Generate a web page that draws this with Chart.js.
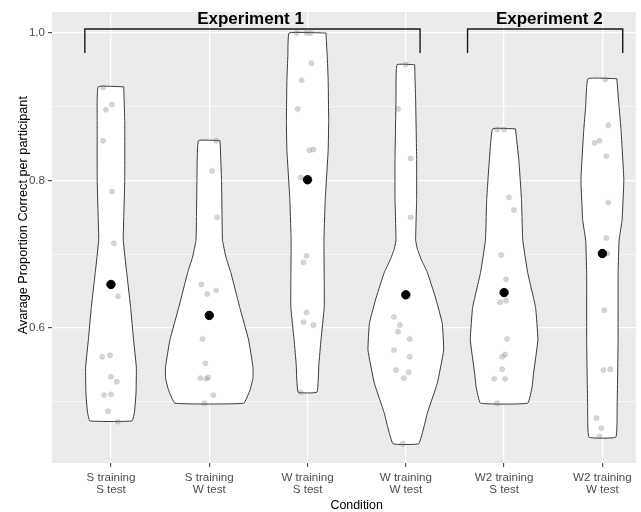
<!DOCTYPE html>
<html>
<head>
<meta charset="utf-8">
<script src="https://cdn.jsdelivr.net/npm/chart.js@4.4.1/dist/chart.umd.min.js"></script>
<style>
  html, body { margin: 0; padding: 0; background: #fff; }
</style>
</head>
<body>
<canvas id="chart" width="641" height="512"></canvas>
<script>
// categories (x positions 1..6)
const conditionLabels = [
  ['S training', 'S test'],
  ['S training', 'W test'],
  ['W training', 'S test'],
  ['W training', 'W test'],
  ['W2 training', 'S test'],
  ['W2 training', 'W test']
];

const yTicks = [0.5, 0.6, 0.7, 0.8, 0.9, 1.0];
const yTickLabels = ['', '0.6', '', '0.8', '', '1.0'];

// mean per condition (black dots)
const meanValues = [0.659, 0.617, 0.801, 0.645, 0.648, 0.701];

// participants: [jitter, proportion correct]
const ptsSS = [[-0.08,0.926],[0.01,0.903],[-0.05,0.896],[-0.08,0.854],[0.01,0.785],[0.03,0.715],[0.07,0.643],
  [-0.09,0.561],[-0.01,0.563],[0.0,0.534],[0.06,0.527],[-0.07,0.509],[0.0,0.510],[-0.03,0.487],[0.07,0.473]];
const ptsSW = [[0.07,0.854],[0.03,0.813],[0.08,0.750],[-0.08,0.659],[-0.02,0.646],[0.07,0.651],[-0.07,0.585],
  [-0.04,0.552],[-0.09,0.532],[-0.03,0.531],[-0.01,0.533],[0.04,0.509],[-0.05,0.498]];
const ptsWS = [[-0.11,1.0],[-0.01,1.0],[0.03,1.0],[0.04,0.959],[-0.06,0.936],[-0.10,0.897],[0.02,0.841],[0.06,0.842],
  [-0.07,0.804],[-0.01,0.698],[-0.04,0.689],[-0.01,0.621],[-0.04,0.608],[0.06,0.604],[-0.07,0.513]];
const ptsWW = [[0.0,0.957],[-0.08,0.897],[0.05,0.830],[0.05,0.750],[-0.12,0.615],[-0.06,0.604],[-0.08,0.595],
  [0.04,0.585],[-0.12,0.570],[0.04,0.561],[-0.10,0.543],[0.03,0.540],[-0.02,0.532],[-0.03,0.443]];
const ptsW2S = [[-0.07,0.869],[0.0,0.869],[0.05,0.777],[0.10,0.760],[-0.03,0.699],[0.02,0.666],[-0.04,0.635],[0.02,0.637],
  [0.03,0.585],[-0.02,0.561],[0.01,0.564],[-0.02,0.544],[-0.10,0.531],[0.01,0.531],[-0.07,0.498]];
const ptsW2W = [[0.03,0.937],[0.06,0.875],[-0.08,0.851],[-0.03,0.854],[0.04,0.833],[0.06,0.770],[0.04,0.722],
  [0.05,0.701],[0.02,0.624],[0.01,0.543],[0.08,0.544],[-0.06,0.478],[-0.01,0.464],[-0.03,0.453]];

// violin outlines: [proportion, half width]
const violinSS = [[0.927,0.13],[0.88,0.14],[0.80,0.14],[0.75,0.13],[0.719,0.125],[0.675,0.16],[0.628,0.20],
  [0.584,0.23],[0.547,0.258],[0.512,0.255],[0.487,0.24],[0.474,0.215]];
const violinSW = [[0.854,0.11],[0.80,0.125],[0.75,0.13],[0.719,0.135],[0.696,0.17],[0.675,0.22],[0.628,0.31],
  [0.584,0.40],[0.547,0.445],[0.532,0.445],[0.516,0.415],[0.498,0.35]];
const violinWS = [[1.0,0.187],[0.97,0.20],[0.936,0.21],[0.88,0.215],[0.841,0.21],[0.774,0.18],[0.719,0.167],
  [0.66,0.17],[0.628,0.17],[0.584,0.137],[0.55,0.115],[0.513,0.096]];
const violinWW = [[0.957,0.09],[0.909,0.10],[0.83,0.11],[0.774,0.11],[0.719,0.10],[0.706,0.12],[0.692,0.16],
  [0.675,0.22],[0.642,0.30],[0.607,0.37],[0.570,0.385],[0.525,0.32],[0.485,0.22],[0.466,0.185],[0.443,0.13]];
const violinW2S = [[0.870,0.116],[0.828,0.15],[0.774,0.177],[0.719,0.19],[0.675,0.24],[0.628,0.32],[0.584,0.344],
  [0.539,0.30],[0.52,0.285],[0.498,0.24]];
const violinW2W = [[0.938,0.147],[0.90,0.17],[0.868,0.19],[0.801,0.218],[0.746,0.20],[0.719,0.17],[0.675,0.16],
  [0.584,0.16],[0.493,0.15],[0.452,0.137]];

// experiment brackets and labels
const bracketExp1 = [[0.734,0.973],[0.734,1.0054],[4.145,1.0054],[4.145,0.973]];
const bracketExp2 = [[4.628,0.973],[4.628,1.0054],[6.207,1.0054],[6.207,0.973]];
const bracketLabels = ['Experiment 1', 'Experiment 2'];
const bracketLabelPos = [[2.42,1.019],[5.46,1.019]];

const xTitle = 'Condition';
const yTitle = 'Avarage Proportion Correct per participant';

const points = [ptsSS, ptsSW, ptsWS, ptsWW, ptsW2S, ptsW2W];
const violins = [violinSS, violinSW, violinWS, violinWW, violinW2S, violinW2W];

const FONT = '"Liberation Sans", Arial, sans-serif';

const datasets = [];

datasets.push({
  label: 'mean',
  data: meanValues.map((v, i) => ({ x: i + 1, y: v })),
  backgroundColor: '#000',
  borderColor: '#000',
  pointRadius: 4.2,
  order: 0
});

datasets.push({
  label: 'participants',
  data: points.flatMap((arr, i) => arr.map(([j, v]) => ({ x: i + 1 + j, y: v }))),
  backgroundColor: 'rgba(120,120,120,0.3)',
  borderColor: 'rgba(110,110,110,0.15)',
  borderWidth: 0.6,
  pointRadius: 2.7,
  order: 1
});

violins.forEach((profile, i) => {
  const c = i + 1;
  const right = profile.map(([v, hw]) => ({ x: c + hw, y: v }));
  const left = profile.slice().reverse().map(([v, hw]) => ({ x: c - hw, y: v }));
  datasets.push({
    type: 'line',
    label: 'violin' + c,
    data: [...right, ...left, right[0]],
    backgroundColor: '#ffffff',
    borderColor: '#3a3a3a',
    borderWidth: 1,
    fill: 'shape',
    pointRadius: 0,
    tension: 0.1, // also keeps chart.js off its sorted-x fast path
    order: 2
  });
});

[bracketExp1, bracketExp2].forEach((br, i) => {
  datasets.push({
    type: 'line',
    label: 'bracket' + (i + 1),
    data: br.map(([x, y]) => ({ x, y })),
    borderColor: '#1a1a1a',
    borderWidth: 1.4,
    fill: false,
    pointRadius: 0,
    tension: 0,
    order: 3
  });
});

const panelBg = {
  id: 'panelBg',
  beforeDraw(chart) {
    const { ctx, chartArea: a } = chart;
    ctx.save();
    ctx.fillStyle = '#EBEBEB';
    ctx.fillRect(a.left, a.top, a.right - a.left, a.bottom - a.top);
    ctx.restore();
  }
};

const annotations = {
  id: 'annotations',
  afterDatasetsDraw(chart) {
    const { ctx, scales: { x, y } } = chart;
    ctx.save();
    ctx.fillStyle = '#000';
    ctx.textAlign = 'center';
    ctx.textBaseline = 'middle';
    ctx.font = 'bold 17px ' + FONT;
    bracketLabels.forEach((t, i) => {
      ctx.fillText(t, x.getPixelForValue(bracketLabelPos[i][0]), y.getPixelForValue(bracketLabelPos[i][1]));
    });
    ctx.restore();
  },
  afterDraw(chart) {
    const { ctx, scales: { x, y } } = chart;
    ctx.save();
    ctx.fillStyle = '#000';
    ctx.textAlign = 'center';
    ctx.textBaseline = 'middle';
    ctx.font = '12.4px ' + FONT;
    // axis titles: centred on the full (uncropped) panel
    ctx.fillText(xTitle, x.getPixelForValue(3.5), 505.5);
    ctx.font = '12.7px ' + FONT;
    ctx.translate(23, y.getPixelForValue(0.753));
    ctx.rotate(-Math.PI / 2);
    ctx.fillText(yTitle, 0, 0);
    ctx.restore();
  }
};

new Chart(document.getElementById('chart'), {
  type: 'scatter',
  data: { datasets },
  plugins: [panelBg, annotations],
  options: {
    responsive: false,
    animation: false,
    devicePixelRatio: 1,
    events: [],
    layout: { padding: { top: 12, right: 2, left: 0, bottom: 0 } },
    plugins: {
      legend: { display: false },
      tooltip: { enabled: false }
    },
    scales: {
      x: {
        type: 'linear',
        min: 0.4,
        max: 6.34,
        afterBuildTicks: s => { s.ticks = conditionLabels.map((_, i) => ({ value: i + 1 })); },
        afterFit: s => { s.height = 49; },
        border: { display: false },
        grid: {
          color: '#ffffff',
          lineWidth: 1.3,
          tickColor: '#333333',
          tickWidth: 1,
          tickLength: 4
        },
        ticks: {
          autoSkip: false,
          maxRotation: 0,
          padding: 4.5,
          color: '#4D4D4D',
          font: { family: FONT, size: 11.6, lineHeight: 1.07 },
          callback: (v, i) => conditionLabels[i]
        }
      },
      y: {
        type: 'linear',
        min: 0.4169,
        max: 1.0285,
        afterBuildTicks: s => { s.ticks = yTicks.map(v => ({ value: v })); },
        afterFit: s => { s.width = 52; },
        border: { display: false },
        grid: {
          color: '#ffffff',
          lineWidth: c => (yTickLabels[c.index] ? 1.3 : 0.6),
          tickColor: c => (yTickLabels[c.index] ? '#333333' : 'rgba(0,0,0,0)'),
          tickWidth: 1,
          tickLength: 4
        },
        ticks: {
          padding: 3,
          color: '#4D4D4D',
          font: { family: FONT, size: 11.6 },
          callback: (v, i) => yTickLabels[i]
        }
      }
    }
  }
});
</script>
</body>
</html>
